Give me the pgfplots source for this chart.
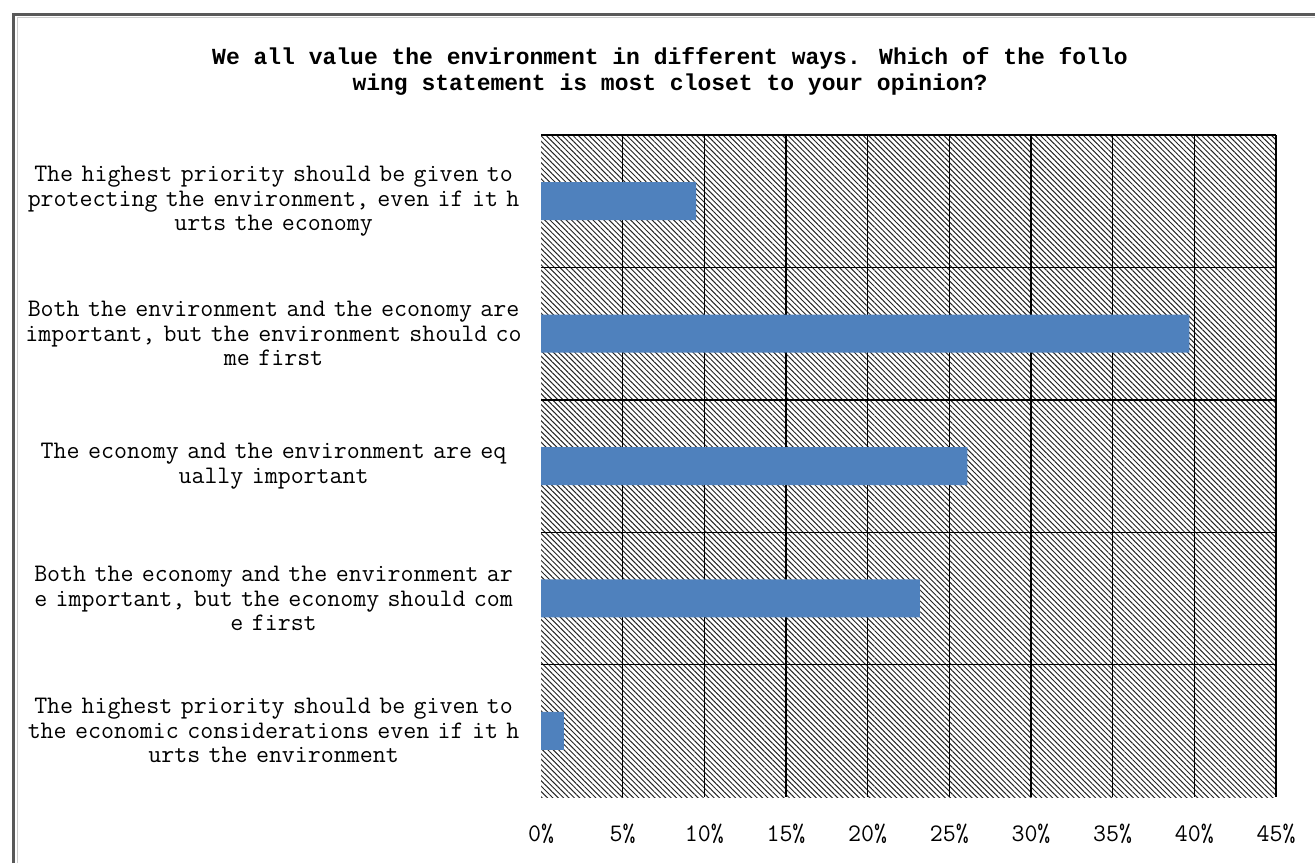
\documentclass[border=0pt]{standalone}
\usepackage{pgfplots}
\pgfplotsset{compat=1.18}
\usepackage{fontspec}
\newfontfamily\titlefont{Liberation Mono}
\usetikzlibrary{patterns.meta}
\definecolor{barblue}{HTML}{4F81BD}
\begin{document}
\begin{tikzpicture}[x=1pt,y=1pt]
\useasboundingbox (0,0) rectangle (657.5,431.5);
% frame
\draw[color=black!65, line width=1.5pt] (6.5,0) -- (6.5,424.4) -- (657.5,424.4);
\draw[color=black!20, line width=0.6pt] (8.6,0) -- (8.6,422.6) -- (657.5,422.6);
% title
\node[align=center, font={\titlefont\fontsize{11.5}{13}\selectfont\bfseries}] at (335,396)
  {We all value the environment in different ways. Which of the follo\\wing statement is most closet to your opinion?};
\begin{axis}[
  at={(270.5pt,33pt)}, anchor=south west,
  scale only axis, width=367.5pt, height=331pt,
  xmin=0, xmax=45, ymin=-0.5, ymax=4.5, y dir=reverse,
  axis line style={draw=none},
  axis background/.style={pattern={Lines[angle=-45,distance=1.9pt,line width=0.5pt]}, pattern color=black!85},
  /pgf/number format/assume math mode=true,
  xtick={0,5,...,45},
  xticklabels={0\%,5\%,10\%,15\%,20\%,25\%,30\%,35\%,40\%,45\%},
  minor xtick={5,10,...,45},
  xminorgrids=true,
  ytick={0,1,2,3,4},
  minor ytick={-0.5,0.5,1.5,2.5,3.5},
  yminorgrids=true,
  minor grid style={black, line width=0.7pt},
  major tick length=0pt, minor tick length=0pt,
  tick label style={font={\ttfamily\fontsize{12.6}{12.25}\selectfont}},
  xticklabel style={yshift=-10pt},
  yticklabel style={anchor=east, align=center, text width=250pt, inner sep=0pt, xshift=-8.5pt},
  yticklabels={
    {The highest priority should be given to\\protecting the environment, even if it h\\urts the economy},
    {Both the environment and the economy are\\important, but the environment should co\\me first},
    {The economy and the environment are eq\\ually important},
    {Both the economy and the environment ar\\e important, but the economy should com\\e first},
    {The highest priority should be given to\\the economic considerations even if it h\\urts the environment}
  },
]
\addplot[xbar, bar width=19pt, fill=barblue, draw=none] coordinates {
  (9.5,0) (39.7,1) (26.1,2) (23.2,3) (1.4,4)
};
\end{axis}
\end{tikzpicture}
\end{document}
